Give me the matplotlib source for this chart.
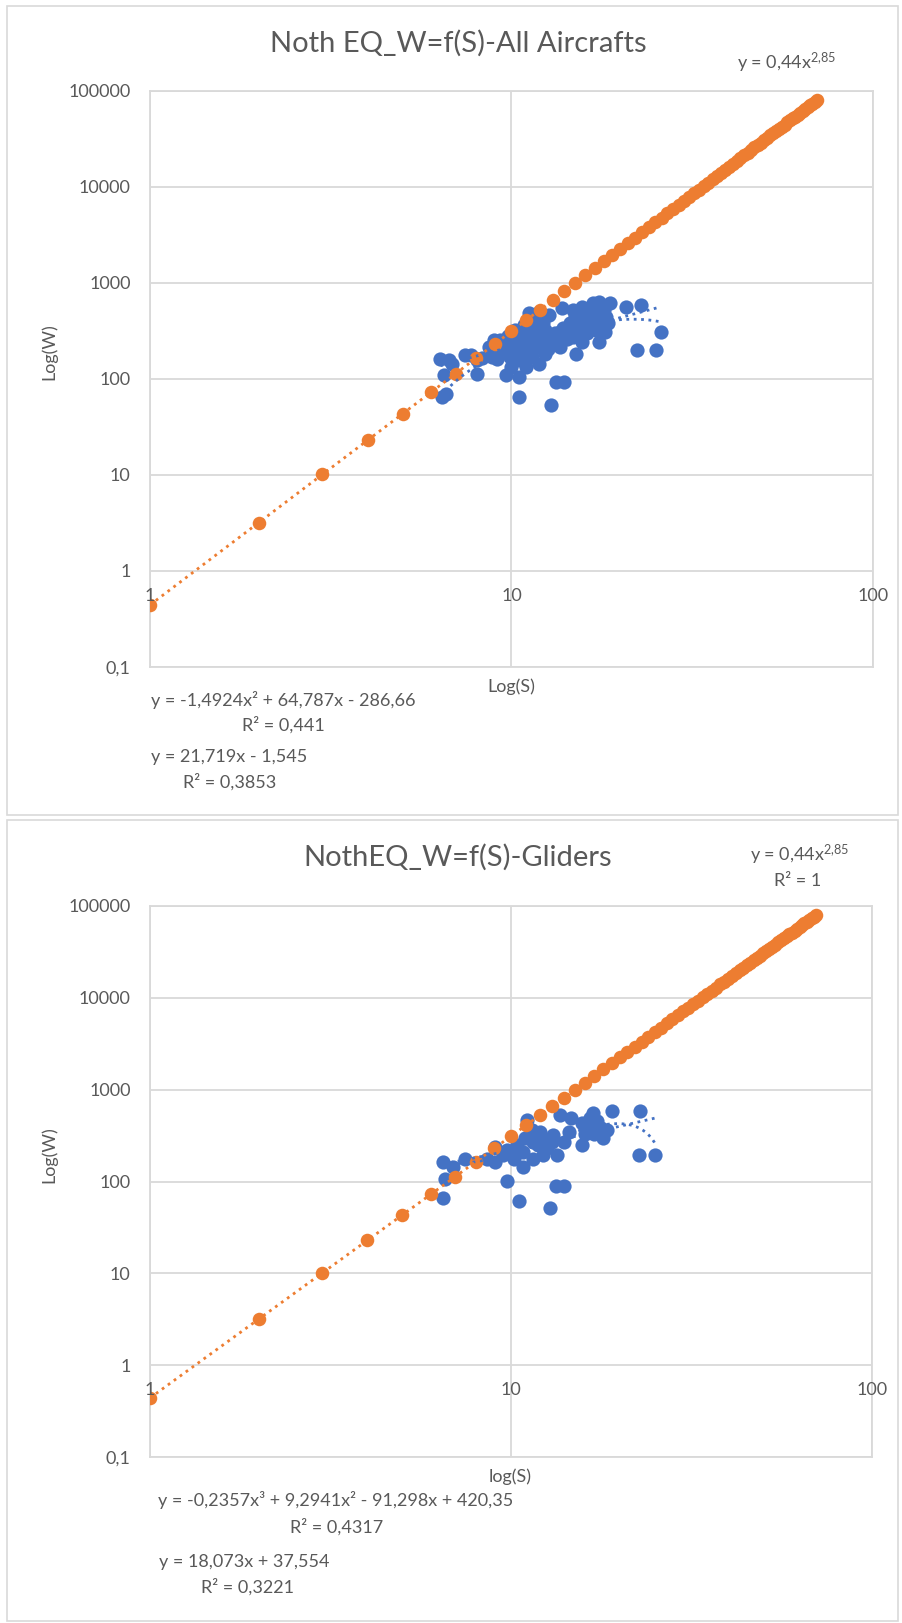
import numpy as np
import matplotlib
matplotlib.use("Agg")
import matplotlib.pyplot as plt
from matplotlib.patches import Rectangle
from matplotlib.ticker import NullLocator
from matplotlib.transforms import offset_copy

plt.rcParams['font.family'] = ['Lato', 'DejaVu Sans']
plt.rcParams['mathtext.fontset'] = 'custom'
plt.rcParams['mathtext.rm'] = 'Lato'
plt.rcParams['mathtext.default'] = 'regular'

TXT = '#595959'
GRID = '#D9D9D9'
BLUE = '#4472C4'
ORANGE = '#ED7D31'

# reference power series W = 0,44 S^2,85 (same points in both charts)
ref_s = list(range(1, 71))
ref_w = [0.44, 3.17, 10.1, 22.9, 43.2, 72.6, 112.7, 164.9, 230.8, 311.5,
         409, 524, 658, 813, 990, 1189, 1414, 1664, 1941, 2246,
         2581, 2946, 3344, 3777, 4239, 4742, 5279, 5857, 6473, 7128,
         7828, 8573, 9350, 10177, 11057, 11981, 12954, 13979, 15052, 16174,
         17362, 18586, 19875, 21230, 22634, 24103, 25617, 27205, 28855, 30549,
         32340, 34170, 36067, 38069, 40102, 42200, 44409, 46640, 48972, 51379,
         53856, 56390, 59044, 61776, 64539, 67443, 70338, 73427, 76498, 79700]
power_coef = [0.44, 2.85]

# all aircrafts: wing area S, weight W
all_s = [6.36, 6.71, 6.85, 6.5, 6.57, 6.43, 7.46, 7.71, 8.04, 8.04, 8.67, 8.94, 9.1, 8.3,
         9.3, 9.6, 9.8, 10.0, 10.2, 10.5, 10.5, 10.9, 11.4, 11.9, 12.4, 13.0, 13.6, 11.4,
         11.9, 12.4, 10.5, 10.0, 9.64, 9.24, 8.85, 10.5, 9.64, 10.95, 10.8, 11.2, 11.6, 12.1,
         12.8, 13.2, 12.0, 11.1, 10.3, 9.9, 11.0, 12.6, 13.4, 14.2, 13.6, 11.2, 11.9, 12.7,
         11.6, 12.2, 10.8, 10.2, 13.3, 14.0, 10.5, 12.85,
         13.8, 14.8, 15.7, 16.8, 17.5, 18.7, 20.7, 22.8, 16.6, 17.5, 18.3, 16.1, 17.5, 15.4,
         17.1, 18.1, 14.8, 15.7, 17.5, 15.1, 25.9, 25.1, 22.3, 16.0, 16.5, 15.0, 17.0, 18.0,
         16.3, 15.2, 14.5, 18.5, 15.9, 16.9, 17.8, 14.9, 16.2, 12.3, 11.7, 10.7, 9.9, 13.9]
all_w = [162, 155, 143, 108, 70, 65, 175, 175, 155, 113, 214, 251, 162, 165,
         250, 230, 280, 251, 300, 272, 230, 214, 272, 295, 320, 251, 214, 168,
         143, 182, 155, 132, 198, 214, 168, 104, 108, 132, 190, 240, 210, 250,
         280, 300, 350, 330, 190, 170, 175, 205, 240, 262, 307, 478, 498, 459,
         400, 380, 360, 320, 92, 92, 64, 53,
         539, 518, 561, 608, 633, 608, 561, 585, 478, 478, 441, 407, 376, 361,
         320, 307, 272, 241, 241, 182, 307, 201, 201, 500, 540, 450, 420, 520,
         350, 300, 380, 380, 440, 560, 460, 330, 300, 230, 260, 280, 225, 340]
all_poly = [-1.4924, 64.787, -286.66]
all_lin = [21.719, -1.545]

# gliders only
gl_s = [6.49, 6.92, 6.56, 6.49, 7.46, 8.56, 9.03, 9.73, 10.5, 12.8, 13.3, 14.0, 10.8, 11.1,
        13.7, 14.7, 16.9, 19.0, 22.8, 22.6, 25.1, 15.7, 18.0, 16.2, 17.3, 17.7, 15.7, 16.5,
        18.4, 9.73, 10.4, 10.8, 11.5, 12.0, 12.6, 13.4, 11.5, 12.3, 13.1, 14.0, 10.2, 9.5,
        9.03, 11.4, 10.9, 11.9, 12.2, 10.1, 13.0, 16.8, 17.0, 16.0, 14.5]
gl_w = [163, 143, 106, 66, 177, 177, 163, 102, 61, 51, 90, 90, 143, 472,
        536, 493, 560, 584, 584, 196, 196, 249, 295, 381, 452, 381, 434, 493,
        364, 219, 249, 210, 271, 350, 229, 193, 177, 193, 322, 271, 177, 193,
        239, 365, 300, 250, 290, 215, 270, 420, 330, 330, 350]
gl_poly = [-0.2357, 9.2941, -91.298, 420.35]
gl_lin = [18.073, 37.554]

y_ticks = [0.1, 1, 10, 100, 1000, 10000, 100000]
y_labels = ['0,1', '1', '10', '100', '1000', '10000', '100000']
x_ticks = [1, 10, 100]
x_labels = ['1', '10', '100']

W, H = 902, 1623
fig = plt.figure(figsize=(W / 100, H / 100), dpi=100)
fig.patch.set_facecolor('white')


def fx(px):
    return px / W


def fy(py):
    return 1 - py / H


def chart(box, s, w, fits, title, texts):
    left, right, top, bottom = box
    ax = fig.add_axes([fx(left), fy(bottom), (right - left) / W, (bottom - top) / H])
    ax.set_xscale('log')
    ax.set_yscale('log')
    ax.set_xlim(1, 100)
    ax.set_ylim(0.1, 100000)
    ax.set_xticks(x_ticks)
    ax.set_yticks(y_ticks)
    ax.set_yticklabels(y_labels)
    ax.xaxis.set_minor_locator(NullLocator())
    ax.yaxis.set_minor_locator(NullLocator())
    ax.tick_params(length=0, labelbottom=False, labelsize=13, labelcolor=TXT, pad=14)
    ax.grid(True, color=GRID, lw=1.3)
    ax.set_axisbelow(True)
    for sp in ax.spines.values():
        sp.set_color(GRID)
        sp.set_linewidth(1.3)

    ax.scatter(s, w, s=105, color=BLUE, linewidths=0, zorder=2)
    ax.scatter(ref_s, ref_w, s=95, color=ORANGE, linewidths=0, zorder=3)

    # trendlines
    xs = np.linspace(min(s), max(s), 300)
    for coef in fits:
        ax.plot(xs, np.polyval(coef, xs), ls=':', color=BLUE, lw=2, zorder=4)
    xp = np.geomspace(min(ref_s), max(ref_s), 300)
    ax.plot(xp, power_coef[0] * xp ** power_coef[1], ls=':', color=ORANGE, lw=2, zorder=4)

    # x tick labels sit under the y=1 line (axis crosses at 1)
    tr = offset_copy(ax.transData, fig=fig, x=0, y=-17, units='dots')
    for xv, lab in zip(x_ticks, x_labels):
        ax.text(xv, 1, lab, transform=tr, ha='center', va='top', fontsize=13,
                color=TXT, zorder=6, clip_on=False)

    fig.text(fx(458), fy(title[1]), title[0], ha='center', va='center', fontsize=21, color=TXT)
    for t, x, y, ha, rot in texts:
        fig.text(fx(x), fy(y), t, ha=ha, va='center', fontsize=13, color=TXT, rotation=rot)
    return ax


chart((150, 873, 90.7, 666.7), all_s, all_w, [all_poly, all_lin],
      ('Noth EQ_W=f(S)-All Aircrafts', 43),
      [('y = 0,44x$^{2{,}85}$', 787, 63, 'center', 0),
       ('Log(W)', 49, 352, 'center', 90),
       ('Log(S)', 511, 687, 'center', 0),
       ('y = -1,4924x² + 64,787x - 286,66', 151, 700, 'left', 0),
       ('R² = 0,441', 283, 725, 'center', 0),
       ('y = 21,719x - 1,545', 151, 757, 'left', 0),
       ('R² = 0,3853', 230, 782, 'center', 0)])

chart((150, 872, 906, 1457), gl_s, gl_w, [gl_poly, gl_lin],
      ('NothEQ_W=f(S)-Gliders', 857),
      [('y = 0,44x$^{2{,}85}$', 800, 855, 'center', 0),
       ('R² = 1', 798, 881, 'center', 0),
       ('Log(W)', 49, 1155, 'center', 90),
       ('log(S)', 510, 1477, 'center', 0),
       ('y = -0,2357x³ + 9,2941x² - 91,298x + 420,35', 158, 1500, 'left', 0),
       ('R² = 0,4317', 337, 1527, 'center', 0),
       ('y = 18,073x + 37,554', 159, 1562, 'left', 0),
       ('R² = 0,3221', 247, 1587, 'center', 0)])

# chart frames
for (x0, y0, x1, y1) in [(7, 6, 898, 815), (7, 820, 898, 1621)]:
    fig.patches.append(Rectangle((fx(x0), fy(y1)), (x1 - x0) / W, (y1 - y0) / H,
                                 transform=fig.transFigure, fill=False, ec=GRID, lw=1.2))

fig.savefig('out.png', dpi=100)
